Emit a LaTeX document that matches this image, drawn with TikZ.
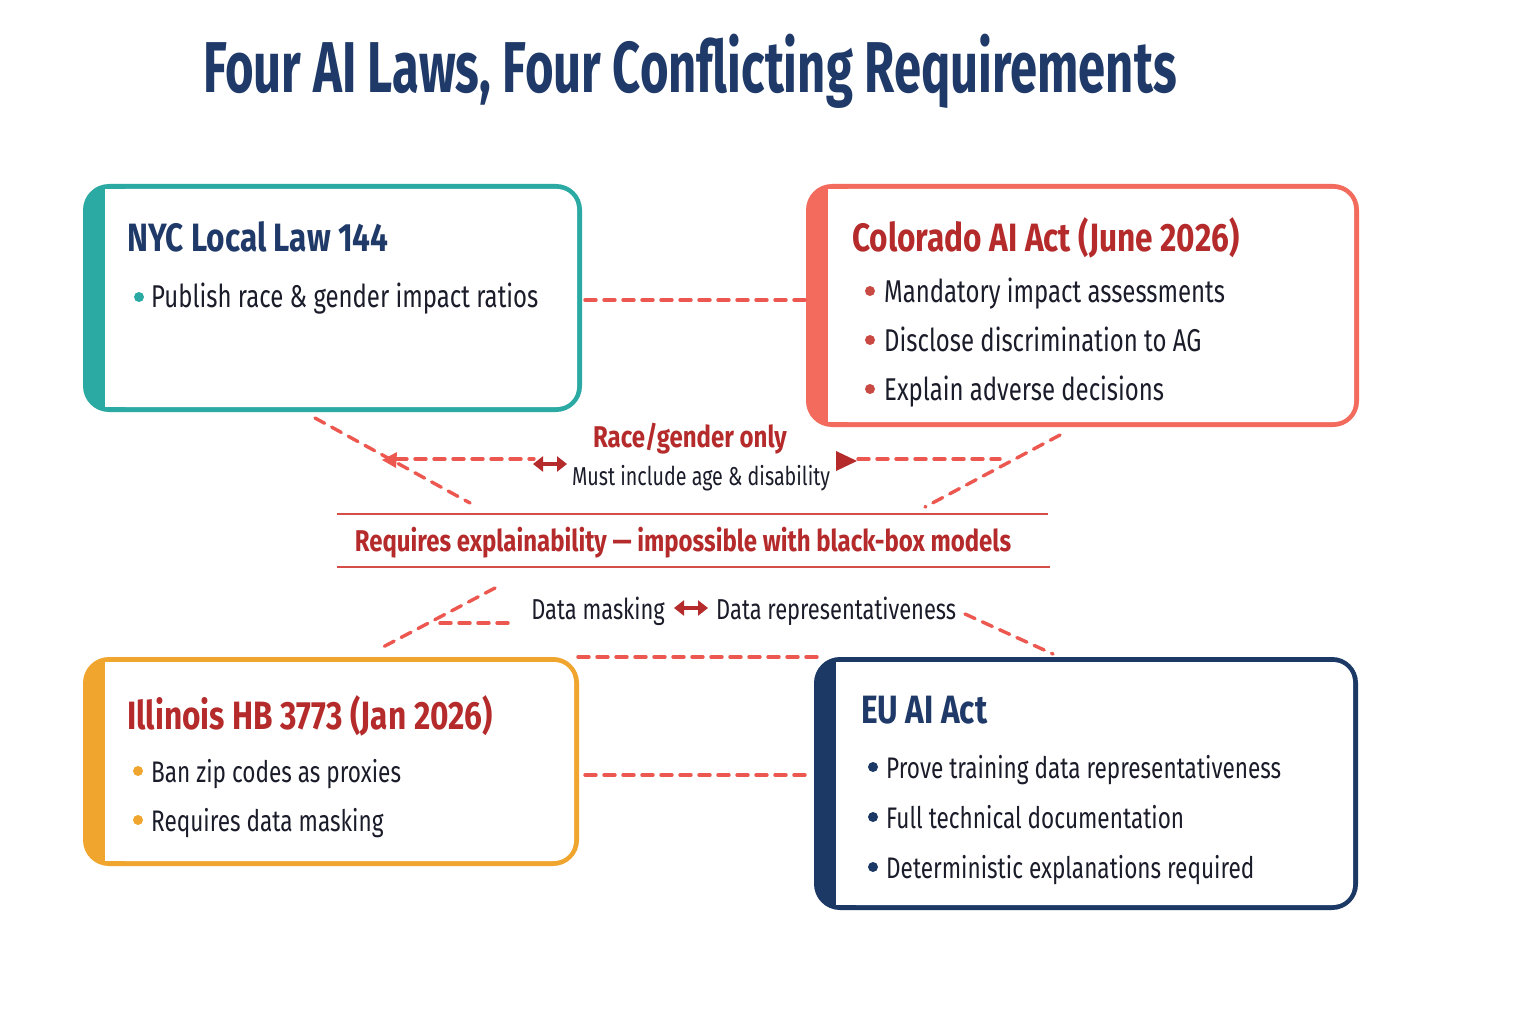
\documentclass[tikz,border=0pt]{standalone}
\usepackage{fontspec}
\setmainfont{Fira Sans}[FakeStretch=0.76]
\newfontfamily\titlefam{Fira Sans}[FakeStretch=0.68]
\newfontfamily\headfam{Fira Sans}[FakeStretch=0.80]
\usetikzlibrary{arrows.meta,fit}
\definecolor{navy}{HTML}{1F3A68}
\definecolor{darkred}{HTML}{B52A2A}
\definecolor{coral}{HTML}{EC574F}
\definecolor{coralbox}{HTML}{F26B5C}
\definecolor{teal}{HTML}{2BA9A3}
\definecolor{orangebox}{HTML}{F0A52E}
\definecolor{eunavy}{HTML}{1C3966}
\definecolor{ink}{HTML}{1A1C2A}
\newcommand\lawbox[6]{%
  \fill[#2, rounded corners=26pt] (#3,#4) rectangle (#5,#6);
  \fill[white, rounded corners=20pt] (#3+22,#4+5) rectangle (#5-5,#6-5);
  \fill[white] (#3+22,#4+5) rectangle (#3+80,#6-5);
  \node[fit={(#3,#4)(#5,#6)}, inner sep=0pt] (#1) {};
}
\begin{document}
\begin{tikzpicture}[x=1pt,y=-1pt,
  conn/.style={draw=coral, line width=3.4pt, dash pattern=on 11pt off 8pt, line cap=round},
  rule/.style={draw=coral!90!black, line width=1.4pt},
  boxtitle/.style={anchor=base west, inner sep=0pt, font=\headfam\bfseries\fontsize{39.5}{44}\selectfont},
  itemup/.style={anchor=base west, inner sep=0pt, text=ink, font=\fontsize{31.5}{36}\selectfont},
  itemlow/.style={anchor=base west, inner sep=0pt, text=ink, font=\fontsize{29.7}{34}\selectfont},
  midbold/.style={anchor=base, inner sep=0pt, text=darkred, font=\headfam\bfseries\fontsize{30}{34}\selectfont},
  midtext/.style={inner sep=0pt, text=ink, font=\fontsize{28.8}{34}\selectfont},
  dbl/.style={draw=darkred, line width=3.6pt, {Triangle[length=10pt,width=15pt]}-{Triangle[length=10pt,width=15pt]}},
]
\useasboundingbox (0,0) rectangle (1536,1024);
\fill[white] (0,0) rectangle (1536,1024);

\node[anchor=base west, inner sep=0pt, text=navy, font=\titlefam\bfseries\fontsize{72}{80}\selectfont] (title) at (203,93) {Four AI Laws, Four Conflicting Requirements};

% boxes
\lawbox{nyc}{teal}{83}{184}{582}{412}
\lawbox{col}{coralbox}{806}{184}{1359}{427}
\lawbox{ill}{orangebox}{83}{657}{579}{866}
\lawbox{eu}{eunavy}{814}{657}{1358}{910}

% NYC
\node[boxtitle, text=navy] (nyct) at (127,252) {NYC Local Law 144};
\fill[teal] (139,297) circle (5pt);
\node[itemup] (nyc1) at (151,308) {Publish race \& gender impact ratios};

% Colorado
\node[boxtitle, text=darkred] (colt) at (852,252) {Colorado AI Act (June 2026)};
\foreach \y/\t [count=\i] in {291/Mandatory impact assessments, 340/Disclose discrimination to AG, 389/Explain adverse decisions}{
  \fill[coral!85!black] (870,\y) circle (5pt);
  \node[itemup] (col\i) at (884,\y+11) {\t};
}

% Illinois
\node[boxtitle, text=darkred] (illt) at (127,729) {Illinois HB 3773 (Jan 2026)};
\foreach \y/\t [count=\i] in {771/Ban zip codes as proxies, 820/Requires data masking}{
  \fill[orangebox] (138,\y) circle (5pt);
  \node[itemlow] (ill\i) at (151,\y+11) {\t};
}

% EU
\node[boxtitle, text=navy] (eut) at (861,723) {EU AI Act};
\foreach \y/\t [count=\i] in {767/Prove training data representativeness, 817/Full technical documentation, 867/Deterministic explanations required}{
  \fill[eunavy] (873,\y) circle (5pt);
  \node[itemlow] (eu\i) at (886,\y+11) {\t};
}

% coordinates for connectors
\coordinate (a1) at (585,300); \coordinate (a2) at (805,300);
\coordinate (b1) at (585,775); \coordinate (b2) at (812,775);
\coordinate (c1) at (578,657); \coordinate (c2) at (818,657);
\coordinate (d1) at (315,418); \coordinate (d2) at (470,503);
\coordinate (e1) at (396,459); \coordinate (e2) at (534,459);
\coordinate (f1) at (858,459); \coordinate (f2) at (1000,459);
\coordinate (g1) at (1060,435); \coordinate (g2) at (925,507);
\coordinate (h1) at (495,588); \coordinate (h2) at (383,647);
\coordinate (i1) at (440,623); \coordinate (i2) at (512,623);
\coordinate (j1) at (965,614); \coordinate (j2) at (1053,654);
\coordinate (r1) at (337,514); \coordinate (r2) at (1048,514);
\coordinate (s1) at (337,567); \coordinate (s2) at (1050,567);

\draw[conn] (a1) -- (a2);
\draw[conn] (b1) -- (b2);
\draw[conn] (c1) -- (c2);
\draw[conn] (d1) -- (d2);
\draw[conn] (e1) -- (e2);
\draw[conn] (f1) -- (f2);
\draw[conn] (g1) -- (g2);
\draw[conn] (h1) -- (h2);
\draw[conn] (i1) -- (i2);
\draw[conn] (j1) -- (j2);
\draw[rule] (r1) -- (r2);
\draw[rule] (s1) -- (s2);

% arrowheads
\fill[coral] (382,460) -- (397,452) -- (396,468) -- cycle;
\coordinate (k1) at (533,464); \coordinate (k2) at (567,464);
\draw[dbl] (k1) -- (k2);
\fill[darkred] (836,451) -- (857,461) -- (836,471) -- cycle;

% middle labels
\node[midbold] (race) at (690,447) {Race/gender only};
\node[anchor=base, inner sep=0pt, text=ink, font=\fontsize{25.9}{30}\selectfont] (age) at (701,485) {Must include age \& disability};
\node[midbold] (expl) at (683,551) {Requires explainability — impossible with black-box models};
\node[midtext, anchor=base east] (mask) at (665,619) {Data masking};
\coordinate (m1) at (674,608); \coordinate (m2) at (708,608);
\draw[dbl] (m1) -- (m2);
\node[midtext, anchor=base west] (repr) at (716,619) {Data representativeness};
\end{tikzpicture}
\end{document}
